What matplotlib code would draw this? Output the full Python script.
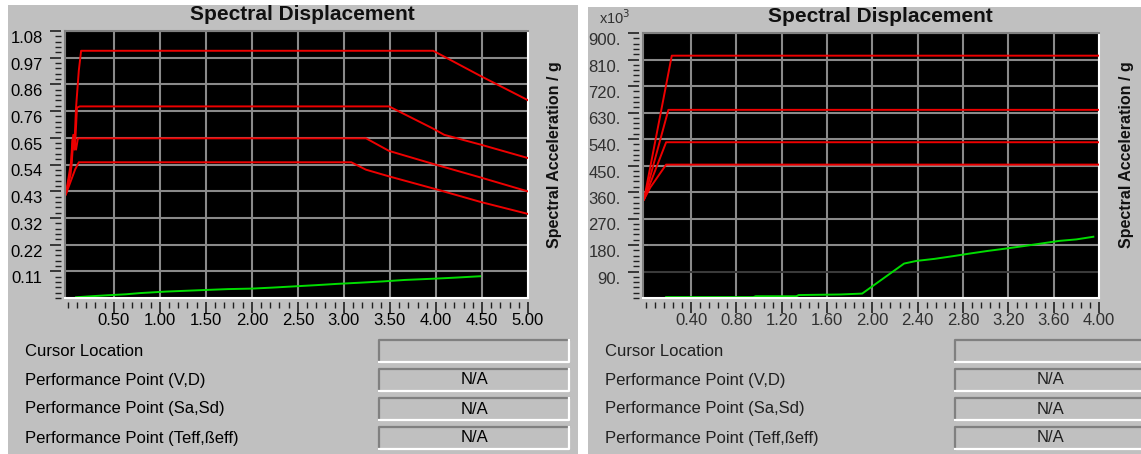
import matplotlib
matplotlib.use("Agg")
import matplotlib.pyplot as plt
from matplotlib.patches import Rectangle
from matplotlib.lines import Line2D
from matplotlib.ticker import FixedLocator, MultipleLocator, FuncFormatter

W, H = 1141, 454
PANEL = "#c0c0c0"
plt.rcParams["font.family"] = ["Liberation Sans", "DejaVu Sans"]

# ---- left chart (Sa in g) ----
left_yticks = [0.108, 0.216, 0.324, 0.432, 0.54, 0.648, 0.756, 0.864, 0.972, 1.08]
left_xticks = [0.5, 1.0, 1.5, 2.0, 2.5, 3.0, 3.5, 4.0, 4.5, 5.0]
left_demand = [
    ([-0.02, 0.03, 0.05, 0.07, 0.09, 0.12, 0.145, 3.97, 4.49, 5.0],
     [0.42, 0.50, 0.64, 0.60, 0.77, 0.92, 1.0, 1.0, 0.897, 0.80]),
    ([-0.02, 0.04, 0.06, 0.08, 0.10, 0.13, 3.49, 3.97, 4.09, 4.49, 5.0],
     [0.42, 0.56, 0.66, 0.62, 0.77, 0.775, 0.775, 0.685, 0.66, 0.62, 0.566]),
    ([-0.02, 0.04, 0.06, 0.09, 0.11, 3.24, 3.49, 3.69, 4.0, 4.49, 5.0],
     [0.42, 0.53, 0.64, 0.60, 0.646, 0.646, 0.595, 0.573, 0.539, 0.487, 0.431]),
    ([-0.02, 0.05, 0.08, 0.12, 3.08, 3.24, 3.49, 4.0, 4.49, 5.0],
     [0.42, 0.49, 0.52, 0.549, 0.549, 0.519, 0.492, 0.44, 0.388, 0.34]),
]
left_capacity_x = [0.09, 0.25, 0.43, 0.63, 0.79, 1.07, 1.40, 1.74, 2.0, 2.22,
                   2.46, 2.70, 2.92, 3.18, 3.42, 3.66, 3.97, 4.19, 4.48]
left_capacity_y = [0.003, 0.007, 0.011, 0.015, 0.020, 0.026, 0.031, 0.036, 0.038, 0.042,
                   0.047, 0.052, 0.057, 0.062, 0.067, 0.073, 0.078, 0.082, 0.088]

# ---- right chart (x10^3) ----
right_yticks = [90, 180, 270, 360, 450, 540, 630, 720, 810, 900]
right_xticks = [0.4, 0.8, 1.2, 1.6, 2.0, 2.4, 2.8, 3.2, 3.6, 4.0]
right_demand = [
    ([-0.015, 0.23, 4.0], [335, 823, 823]),
    ([-0.015, 0.20, 4.0], [335, 639, 639]),
    ([-0.015, 0.18, 4.0], [335, 529, 529]),
    ([-0.015, 0.04, 0.18, 4.0], [335, 375, 453, 453]),
]
right_capacity_x = [0.18, 0.95, 0.97, 1.33, 1.35, 1.72, 1.91, 2.28, 2.39, 2.55,
                    2.71, 2.86, 3.02, 3.18, 3.33, 3.49, 3.65, 3.80, 3.95]
right_capacity_y = [3, 3, 6, 6, 10, 12, 15, 117, 126, 133,
                    142, 151, 160, 168, 176, 185, 194, 199, 208]

row_labels = ["Cursor Location", "Performance Point (V,D)",
              "Performance Point (Sa,Sd)", "Performance Point (Teff,ßeff)"]
row_values = ["", "N/A", "N/A", "N/A"]


def fx(x):
    return x / W


def fy(y):
    return 1 - y / H


fig = plt.figure(figsize=(W / 100, H / 100), dpi=100)
fig.patch.set_facecolor("white")


def panel(x0, x1, y0):
    fig.add_artist(Rectangle((fx(x0), 0), fx(x1) - fx(x0), fy(y0),
                             transform=fig.transFigure, facecolor=PANEL,
                             edgecolor="none", zorder=0))


def sunken_box(x0, y0, x1, y1, value, color):
    dark, light = "#808080", "#ffffff"
    fig.add_artist(Line2D([fx(x0), fx(x0), fx(x1)], [fy(y1), fy(y0), fy(y0)],
                          transform=fig.transFigure, color=dark, lw=1.6))
    fig.add_artist(Line2D([fx(x0), fx(x1), fx(x1)], [fy(y1), fy(y1), fy(y0)],
                          transform=fig.transFigure, color=light, lw=1.6))
    if value:
        fig.text(fx((x0 + x1) / 2), fy((y0 + y1) / 2), value, ha="center",
                 va="center", fontsize=12, color=color)


def chart(rect, xlim, ylim, xticks, yticks, ylabfmt, demand, cap_x, cap_y,
          txt, title_xy, ylabel_xy):
    ax = fig.add_axes(rect)
    ax.set_facecolor("black")
    ax.set_xlim(*xlim)
    ax.set_ylim(*ylim)
    for xs, ys in demand:
        ax.plot(xs, ys, color="#ee0000", lw=1.4, zorder=3)
    ax.plot(cap_x, cap_y, color="#00dd00", lw=1.4, zorder=3)

    ax.xaxis.set_major_locator(FixedLocator(xticks))
    ax.yaxis.set_major_locator(FixedLocator(yticks))
    ax.xaxis.set_minor_locator(MultipleLocator((xticks[1] - xticks[0]) / 5))
    ax.yaxis.set_minor_locator(MultipleLocator((yticks[1] - yticks[0]) / 5))
    ax.xaxis.set_major_formatter(FuncFormatter(lambda v, p: f"{v:.2f}"))
    ax.yaxis.set_major_formatter(FuncFormatter(ylabfmt))
    ax.grid(True, which="major", color="#8a8a8a", lw=1.5)
    ax.set_axisbelow(True)

    ax.tick_params(which="major", direction="out", length=8, width=1.2,
                   color="#202020", labelsize=12, labelcolor=txt)
    ax.tick_params(axis="x", which="major", pad=0)
    ax.tick_params(axis="y", which="major", pad=5)
    ax.tick_params(which="minor", direction="out", length=4, width=1.0,
                   color="#202020")

    ax.spines["top"].set_color("#808080")
    ax.spines["right"].set_color("white")
    for s in ("top", "right"):
        ax.spines[s].set_linewidth(1.5)
    for s in ("left", "bottom"):
        ax.spines[s].set_position(("outward", 3))
        ax.spines[s].set_visible(False)

    # plot frame edges
    ax.add_line(Line2D([0, 0], [0, 1], transform=ax.transAxes, color="#808080",
                       lw=1.5, clip_on=False, zorder=4))
    ax.add_line(Line2D([0, 1], [0, 0], transform=ax.transAxes, color="white",
                       lw=1.5, clip_on=False, zorder=4))

    fig.text(fx(title_xy[0]), fy(title_xy[1]), "Spectral Displacement",
             ha="center", va="center", fontsize=15, fontweight="bold",
             color="#101010")
    fig.text(fx(ylabel_xy[0]), fy(ylabel_xy[1]), "Spectral Acceleration / g",
             ha="center", va="center", rotation=90, fontsize=11.5,
             fontweight="bold", color="#101010")
    return ax


panel(8, 578, 5)
panel(588, W, 7)

ax_l = chart([fx(65), fy(298), fx(528) - fx(65), fy(31) - fy(298)],
             (-0.03, 5.0), (0, 1.08), left_xticks, left_yticks,
             lambda v, p: f"{v:.2f}", left_demand, left_capacity_x, left_capacity_y,
             "black", (302, 14), (555, 155))

ax_r = chart([fx(643), fy(298), fx(1099) - fx(643), fy(33) - fy(298)],
             (-0.024, 4.0), (0, 900), right_xticks, right_yticks,
             lambda v, p: f"{v:.0f}.", right_demand, right_capacity_x,
             right_capacity_y, "#303030", (880, 16), (1127, 155))
# lowest gridline on the right chart is drawn dimmer
ax_r.get_ygridlines()[0].set_color("#3a3a3a")
fig.text(fx(599), fy(18), r"x10$^3$", ha="left", va="center", fontsize=10.5,
         color="#303030")

row_y = [351, 380, 409, 438]
for i, (lab, val) in enumerate(zip(row_labels, row_values)):
    y = row_y[i]
    fig.text(fx(25), fy(y), lab, ha="left", va="center", fontsize=12,
             color="black")
    sunken_box(379, y - 11, 569, y + 11, val, "black")
    fig.text(fx(605), fy(y), lab, ha="left", va="center", fontsize=12,
             color="#202020")
    sunken_box(955, y - 11, 1145, y + 11, val, "#202020")

# value labels sit just below their gridline
fig.canvas.draw()
for ax in (ax_l, ax_r):
    for lab in ax.yaxis.get_majorticklabels():
        lab.set_verticalalignment("top")

fig.savefig("out.png", dpi=100, facecolor=fig.get_facecolor())
